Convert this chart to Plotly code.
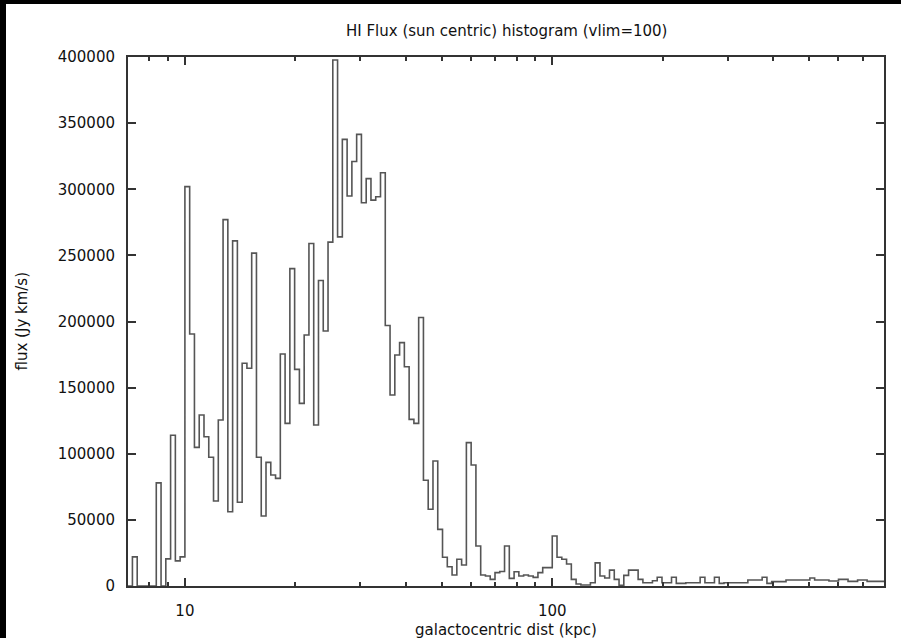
import numpy as np
import plotly.graph_objects as go

# ---- data ----
BINS_PER_DECADE = 77          # histogram bins are uniform in log(distance)
FIRST_BIN = -12               # index of first bin relative to the 10 kpc edge

# flux per bin (Jy km/s), bins k = -12 ... 146
flux_near = [0, 22000, 0, 0, 0, 0, 78000, 0, 20500, 114000, 19000, 22000]
flux_peak = [302000, 190500, 104800, 129300, 112900, 97300, 64300, 125500, 277000, 56200,
             261000, 63300, 168400, 164600, 251700, 97300, 52900, 93500, 83900, 81400,
             175400, 123000, 240000, 163800, 138100, 189800, 259000, 121700, 231000, 192800,
             260000, 397700, 264000, 337700, 294900, 321000, 341500, 289800, 308000, 291800,
             294300, 312500, 197000, 144400, 174700, 184000, 165800, 126000, 123000, 203000]
flux_fall = [80000, 58000, 94500, 42800, 21700, 14600, 8300, 20200, 15900, 108400,
             91500, 30200, 8300, 7600, 5000, 10100, 11000, 30200, 5800, 10800,
             7600, 8300, 7600, 6500, 10100, 13900, 13900, 37800, 21700, 20200]
flux_tail = [16600, 5000, 1500, 800, 800, 2500, 17500, 7600, 6000, 12000,
             5000, 500, 8000, 12000, 12000, 5000, 2500, 2500, 4000, 6600,
             2500, 2500, 6600, 2000, 2000, 2500, 2500, 2500, 6600, 2500,
             2500, 6600, 2000, 2500, 2500, 2500, 2500, 2500, 4500, 4500,
             4500, 6600, 2000, 3300, 3300, 3300, 4500, 4500, 4500, 4500,
             4500, 6000, 4500, 4500, 4500, 3800, 3800, 5000, 5000, 3500,
             3500, 4500, 4500, 3500, 3500, 3500, 3500]
flux = flux_near + flux_peak + flux_fall + flux_tail

x_range_kpc = [7, 800]
y_ticks = [0, 50000, 100000, 150000, 200000, 250000, 300000, 350000, 400000]
x_major = [10, 100]
x_minor = [8, 9, 20, 30, 40, 50, 60, 70, 80, 90, 200, 300, 400, 500, 600, 700, 800]

title_text = "HI Flux (sun centric) histogram (vlim=100)"
xlabel = "galactocentric dist (kpc)"
ylabel = "flux (Jy km/s)"

# ---- build step outline ----
k = np.arange(len(flux) + 1) + FIRST_BIN
edges = 10 ** (1 + k / BINS_PER_DECADE)
ystep = list(flux) + [flux[-1]]

W, H = 901, 638
L, R, T, B = 128, 17, 57, 52
pw, ph = W - L - R, H - T - B

FONT = "DejaVu Sans"
fig = go.Figure()
fig.add_trace(go.Scatter(
    x=edges, y=ystep, mode="lines", line=dict(shape="hv", color="#555555", width=1.6),
    showlegend=False, hoverinfo="skip"))

axis_common = dict(showline=True, mirror="allticks", linecolor="#333333", linewidth=2,
                   ticks="inside", tickcolor="#333333", tickwidth=1.5, showgrid=False,
                   zeroline=False, tickfont=dict(family=FONT, size=15, color="#111111"))

fig.update_xaxes(type="log", range=[np.log10(x_range_kpc[0]), np.log10(x_range_kpc[1])],
                 tickmode="array", tickvals=x_major, ticktext=[str(v) for v in x_major],
                 ticklen=8, ticklabelstandoff=10,
                 minor=dict(tickmode="array", tickvals=x_minor, ticks="inside", ticklen=4,
                            tickcolor="#333333", tickwidth=1.5, showgrid=False),
                 **axis_common)
fig.update_yaxes(range=[0, 400000], tickmode="array", tickvals=y_ticks,
                 ticktext=[str(v) for v in y_ticks], ticklen=8, ticklabelstandoff=8,
                 **axis_common)

def px_x(p):
    return (p - L) / pw

def px_y(p):
    return (H - B - p) / ph

fig.add_shape(type="rect", xref="paper", yref="paper", layer="below",
              x0=px_x(6), x1=px_x(905), y0=px_y(642), y1=px_y(4),
              fillcolor="white", line=dict(width=0))

fig.add_annotation(text=title_text, xref="paper", yref="paper", x=0.5, y=px_y(31),
                   showarrow=False, xanchor="center", yanchor="middle",
                   font=dict(family=FONT, size=15, color="#111111"))
fig.add_annotation(text=xlabel, xref="paper", yref="paper", x=0.5, y=px_y(630),
                   showarrow=False, xanchor="center", yanchor="middle",
                   font=dict(family=FONT, size=15, color="#111111"))
fig.add_annotation(text=ylabel, xref="paper", yref="paper", x=px_x(21), y=0.5,
                   showarrow=False, xanchor="center", yanchor="middle", textangle=-90,
                   font=dict(family=FONT, size=15, color="#111111"))

fig.update_layout(width=W, height=H, margin=dict(l=L, r=R, t=T, b=B),
                  paper_bgcolor="black", plot_bgcolor="white")
fig.write_html("out.html")
